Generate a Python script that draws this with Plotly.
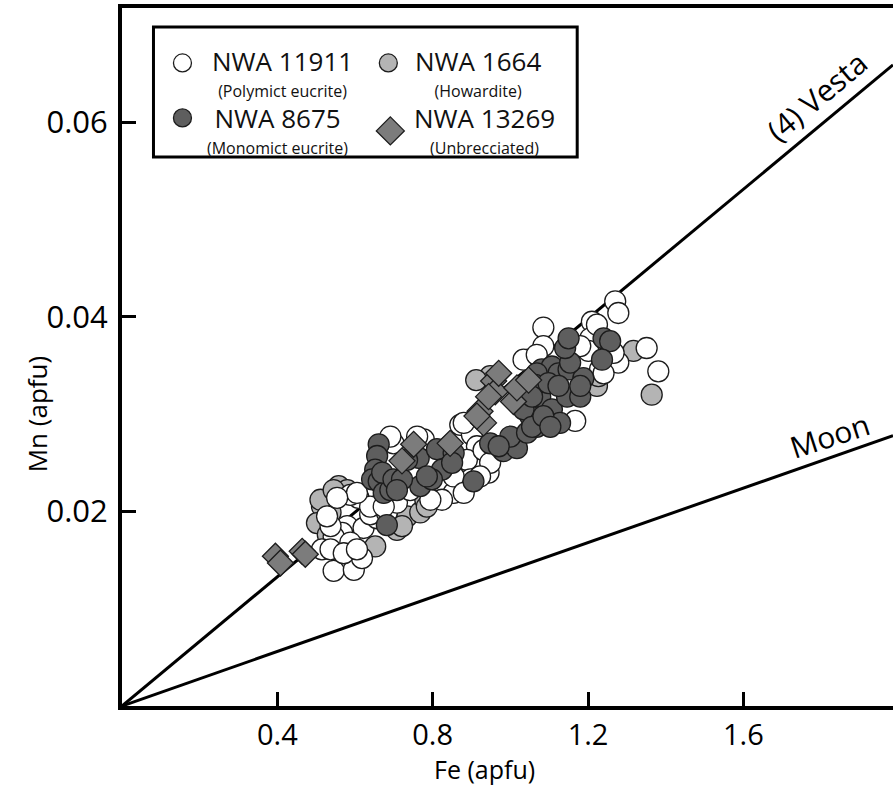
import plotly.graph_objects as go

# ---- Olivine/pyroxene Fe vs Mn (apfu) ----
# NWA 11911 (polymict eucrite)
fe_11911 = [1.270, 1.278, 1.085, 1.210, 1.206, 1.351, 1.381, 1.278, 1.231, 1.201,
            1.085, 1.047, 1.167, 0.871, 0.901, 0.914, 0.931, 0.944, 0.888, 0.854,
            0.824, 0.777, 0.609, 0.588, 0.580, 0.567, 0.545, 0.622, 0.657, 0.639,
            0.682, 0.515, 0.545, 0.597, 0.618, 0.588, 0.537, 0.528, 0.708, 0.742,
            0.794, 0.897, 0.699, 1.223, 1.180, 1.266, 1.240, 1.034, 1.068, 0.880,
            0.931, 0.948, 0.922, 0.854, 0.880, 0.537, 0.571, 0.605, 0.639, 0.674,
            0.605, 0.691, 0.760, 0.554]
mn_11911 = [0.0416, 0.0404, 0.0389, 0.0395, 0.0378, 0.0368, 0.0344, 0.0353, 0.0346, 0.0365,
            0.0370, 0.0356, 0.0293, 0.0289, 0.0279, 0.0267, 0.0253, 0.0240, 0.0253, 0.0219,
            0.0212, 0.0274, 0.0214, 0.0217, 0.0185, 0.0178, 0.0174, 0.0183, 0.0193, 0.0197,
            0.0199, 0.0161, 0.0139, 0.0140, 0.0152, 0.0168, 0.0185, 0.0195, 0.0209, 0.0222,
            0.0212, 0.0233, 0.0270, 0.0392, 0.0370, 0.0363, 0.0342, 0.0356, 0.0361, 0.0291,
            0.0263, 0.0250, 0.0236, 0.0236, 0.0219, 0.0161, 0.0157, 0.0161, 0.0205, 0.0205,
            0.0219, 0.0277, 0.0277, 0.0214]

# NWA 1664 (howardite)
fe_1664 = [1.317, 1.364, 0.515, 0.558, 0.502, 0.537, 0.652, 0.708, 0.734, 0.768,
           0.781, 0.580, 1.223, 0.948, 0.511, 0.545, 0.721, 0.785, 1.227, 0.537,
           0.530, 0.912]
mn_1664 = [0.0365, 0.0320, 0.0205, 0.0226, 0.0188, 0.0199, 0.0164, 0.0181, 0.0195, 0.0199,
           0.0212, 0.0222, 0.0329, 0.0339, 0.0212, 0.0222, 0.0185, 0.0205, 0.0339, 0.0166,
           0.0176, 0.0335]

# NWA 8675 (monomict eucrite)
fe_8675 = [0.661, 0.657, 0.652, 0.644, 0.661, 0.674, 0.691, 0.670, 0.699, 0.764,
           0.768, 0.721, 0.682, 0.811, 0.824, 0.854, 0.850, 0.798, 0.905, 0.948,
           0.982, 1.017, 1.000, 1.043, 1.068, 1.051, 1.034, 1.077, 1.107, 1.128,
           1.146, 1.180, 1.081, 1.107, 1.124, 1.150, 1.188, 1.154, 1.141, 1.150,
           1.240, 1.257, 1.236, 1.068, 1.064, 1.056, 1.098, 0.708, 0.734, 0.785,
           0.970, 1.056, 1.085, 1.103, 1.124, 1.180]
mn_8675 = [0.0269, 0.0257, 0.0243, 0.0233, 0.0231, 0.0219, 0.0222, 0.0240, 0.0233, 0.0255,
           0.0226, 0.0233, 0.0186, 0.0264, 0.0243, 0.0260, 0.0250, 0.0233, 0.0231, 0.0270,
           0.0262, 0.0265, 0.0277, 0.0281, 0.0287, 0.0298, 0.0305, 0.0318, 0.0305, 0.0291,
           0.0318, 0.0318, 0.0346, 0.0349, 0.0342, 0.0346, 0.0337, 0.0353, 0.0368, 0.0378,
           0.0378, 0.0375, 0.0356, 0.0342, 0.0330, 0.0318, 0.0332, 0.0222, 0.0253, 0.0236,
           0.0267, 0.0287, 0.0298, 0.0287, 0.0329, 0.0329]

# NWA 13269 (unbrecciated)
fe_13269 = [0.395, 0.408, 0.464, 0.472, 0.751, 0.721, 0.845, 0.931, 0.922, 0.957,
            0.961, 0.970, 1.008, 1.017, 1.047, 0.944, 0.914]
mn_13269 = [0.0154, 0.0147, 0.0159, 0.0156, 0.0269, 0.0252, 0.0270, 0.0291, 0.0303, 0.0334,
            0.0323, 0.0342, 0.0313, 0.0327, 0.0335, 0.0318, 0.0298]

# Reference Mn/Fe trends
VESTA_MN_PER_FE = 0.0332
MOON_MN_PER_FE = 0.0140

x_ticks = [0.4, 0.8, 1.2, 1.6]
y_ticks = [0.02, 0.04, 0.06]
y_ticktext = ["0.02", "0.04", "0.06"]

legend_names = ["NWA 11911", "NWA 1664", "NWA 8675", "NWA 13269"]
legend_notes = ["(Polymict eucrite)", "(Howardite)", "(Monomict eucrite)", "(Unbrecciated)"]

# ---- geometry (pixels) ----
W, H = 893, 793
ML, MR, MT, MB = 121.5, 0, 8, 86.5
PX_PER_FE = 388.6
PX_PER_MN = 9735.0
PW = W - ML - MR
PH = H - MT - MB
X_MAX = PW / PX_PER_FE
Y_MAX = PH / PX_PER_MN


def px(xp):
    return (xp - ML) / PW


def py(yp):
    return (H - MB - yp) / PH


FILLS = ["#ffffff", "#b4b4b4", "#5e5e5e", "#7c7c7c"]
EDGE = "#1c1c1c"
FONT = "Open Sans, Noto Sans, sans-serif"

fig = go.Figure()

# reference lines through the origin
for slope in (VESTA_MN_PER_FE, MOON_MN_PER_FE):
    fig.add_trace(go.Scatter(
        x=[0, X_MAX], y=[0, slope * X_MAX], mode="lines",
        line=dict(color="#000000", width=3), hoverinfo="skip", showlegend=False))

series = [
    (fe_1664, mn_1664, FILLS[1], "circle", 21),
    (fe_11911, mn_11911, FILLS[0], "circle", 21),
    (fe_8675, mn_8675, FILLS[2], "circle", 21),
    (fe_13269, mn_13269, FILLS[3], "diamond", 20),
]
for xs, ys, fill, sym, size in series:
    fig.add_trace(go.Scatter(
        x=xs, y=ys, mode="markers", showlegend=False,
        marker=dict(symbol=sym, size=size, color=fill,
                    line=dict(color=EDGE, width=1.3))))

shapes = []
annotations = []

# legend frame
shapes.append(dict(type="rect", xref="paper", yref="paper",
                   x0=px(153), x1=px(577), y0=py(157), y1=py(27),
                   line=dict(color="#000000", width=3), fillcolor="#ffffff", layer="above"))

# legend swatches and two-line labels (name + meteorite type)
swatches = [(182, 63), (388, 63), (182, 118), (390, 131)]
label_centres = [(282, 73), (478, 73), (277, 130), (484, 130)]
for i, (sx, sy) in enumerate(swatches):
    fill = FILLS[i]
    if i == 3:
        shapes.append(dict(type="path", xref="paper", yref="paper",
                           xsizemode="pixel", ysizemode="pixel",
                           xanchor=px(sx), yanchor=py(sy),
                           path="M 0,14 L 14,0 L 0,-14 L -14,0 Z",
                           fillcolor=fill, line=dict(color=EDGE, width=1.3), layer="above"))
    else:
        shapes.append(dict(type="circle", xref="paper", yref="paper",
                           xsizemode="pixel", ysizemode="pixel",
                           xanchor=px(sx), yanchor=py(sy),
                           x0=-9, x1=9, y0=-9, y1=9,
                           fillcolor=fill, line=dict(color=EDGE, width=1.3), layer="above"))
    cx, cy = label_centres[i]
    annotations.append(dict(
        xref="paper", yref="paper", x=px(cx), y=py(cy),
        xanchor="center", yanchor="middle", showarrow=False, align="center",
        text=("<span style='font-size:26px'>" + legend_names[i] + "</span><br>"
              + "<span style='font-size:16px'>" + legend_notes[i] + "</span>"),
        font=dict(family=FONT, size=20, color="#111111")))

# trend labels
annotations.append(dict(x=1.788, y=0.0627, xref="x", yref="y", showarrow=False,
                        text="(4) Vesta", textangle=-40,
                        font=dict(family=FONT, size=30, color="#000000")))
annotations.append(dict(x=1.823, y=0.0278, xref="x", yref="y", showarrow=False,
                        text="Moon", textangle=-18,
                        font=dict(family=FONT, size=30, color="#000000")))

# axis titles
annotations.append(dict(xref="paper", yref="paper", x=px(484), y=py(770),
                        xanchor="center", yanchor="middle", showarrow=False,
                        text="Fe (apfu)",
                        font=dict(family=FONT, size=25, color="#000000")))
annotations.append(dict(xref="paper", yref="paper", x=px(36), y=py(415),
                        xanchor="center", yanchor="middle", showarrow=False,
                        text="Mn (apfu)", textangle=-90,
                        font=dict(family=FONT, size=26, color="#000000")))

fig.update_layout(
    width=W, height=H,
    margin=dict(l=ML, r=MR, t=MT, b=MB, pad=0),
    paper_bgcolor="#ffffff", plot_bgcolor="#ffffff",
    showlegend=False,
    shapes=shapes, annotations=annotations,
    xaxis=dict(range=[0, X_MAX], tickvals=x_ticks, ticks="inside", ticklen=14,
               tickwidth=3, tickcolor="#000000", showline=True, linewidth=4,
               linecolor="#000000", mirror=True, showgrid=False, zeroline=False,
               ticklabelstandoff=0,
               tickfont=dict(family=FONT, size=29, color="#000000")),
    yaxis=dict(range=[0, Y_MAX], tickvals=y_ticks, ticktext=y_ticktext, ticks="inside",
               ticklen=14, tickwidth=3, tickcolor="#000000", showline=True, linewidth=4,
               linecolor="#000000", mirror=False, showgrid=False, zeroline=False,
               ticklabelstandoff=4,
               tickfont=dict(family=FONT, size=31, color="#000000")),
)

fig.write_html("out.html")
